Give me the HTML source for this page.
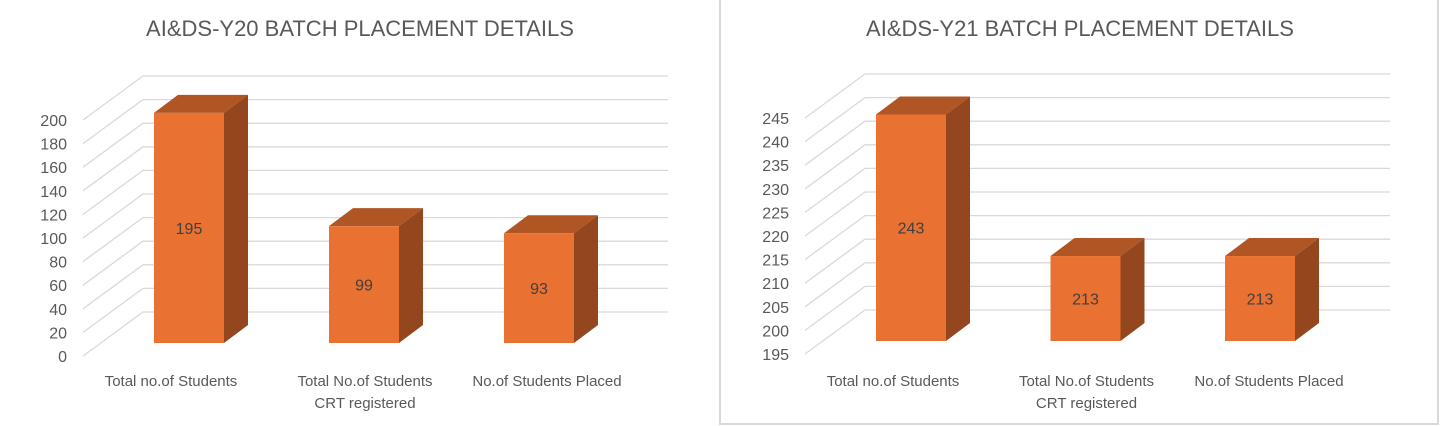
<!DOCTYPE html>
<html><head><meta charset="utf-8"><style>
body{margin:0;background:#fff;width:1441px;height:426px;overflow:hidden;font-family:"Liberation Sans",sans-serif}
svg{position:absolute;left:0;top:0}
</style></head><body>
<svg id="c" width="1441" height="426">
<rect x="720" y="-2" width="718" height="426" fill="none" stroke="#d9d9d9" stroke-width="2"/>
</svg>
<script>
const categories=["Total no.of Students","Total No.of Students|CRT registered","No.of Students Placed"];
const y20Values=[195,99,93];
const y21Values=[243,213,213];
const y20Ticks=[0,20,40,60,80,100,120,140,160,180,200];
const y21Ticks=[195,200,205,210,215,220,225,230,235,240,245];
const titles=["AI&DS-Y20 BATCH  PLACEMENT DETAILS","AI&DS-Y21 BATCH PLACEMENT DETAILS"];
const svg=document.getElementById('c');
const NS='http://www.w3.org/2000/svg';
function mk(t,a,p){const e=document.createElementNS(NS,t);for(const k in a)e.setAttribute(k,a[k]);(p||svg).appendChild(e);return e;}
function chart(o){
  const g=mk('g',{});
  
  
  const min=o.ticks[0],max=o.ticks[o.ticks.length-1];
  const yF=v=>o.y0-(v-min)/(max-min)*236;
  const t=mk('text',{x:o.tx,y:36,'text-anchor':'middle','font-size':22,fill:'#595959'},g);t.textContent=o.title;
  
  
  o.ticks.forEach(v=>{
    const y=yF(v);
    const l=mk('polyline',{points:`${o.fx},${y} ${o.fx+60},${y-44} ${o.right},${y-44}`,fill:'none',stroke:'#d9d9d9','stroke-width':1.3},g);
    
    
    const tx=mk('text',{x:o.fx-16,y:y+6,'text-anchor':'end','font-size':16,fill:'#595959'},g);tx.textContent=v;
    
    
  });
  o.values.forEach((v,i)=>{
    const x=o.bx+i*o.step,w=70,b=o.y0-13,top=yF(v)-13;
    const bg=mk('g',{},g);
    
    
    mk('polygon',{points:`${x},${top} ${x+w},${top} ${x+w+24},${top-18} ${x+24},${top-18}`,fill:'#B05524'},bg);
    mk('polygon',{points:`${x+w},${top} ${x+w+24},${top-18} ${x+w+24},${b-18} ${x+w},${b}`,fill:'#94461F'},bg);
    mk('rect',{x:x,y:top,width:w,height:b-top,fill:'#E97132'},bg);
    const lt=mk('text',{x:x+w/2,y:(top+b)/2+6,'text-anchor':'middle','font-size':16,fill:'#404040'},bg);lt.textContent=v;
    const lines=categories[i].split('|');
    lines.forEach((s,j)=>{
      const c=mk('text',{x:x+w/2+o.lo[i],y:386+j*22,'text-anchor':'middle','font-size':15,fill:'#595959'},g);c.textContent=s;
      
      
    });
  });
}
chart({name:'chart-y20',title:titles[0],tx:360,ticks:y20Ticks,values:y20Values,y0:356,fx:83,right:668,bx:154,step:175,lo:[-18,1,8]});
chart({name:'chart-y21',title:titles[1],tx:1080,ticks:y21Ticks,values:y21Values,y0:354,fx:805,right:1390,bx:876,step:174.5,lo:[-18,1,9]});
</script>
</body></html>
